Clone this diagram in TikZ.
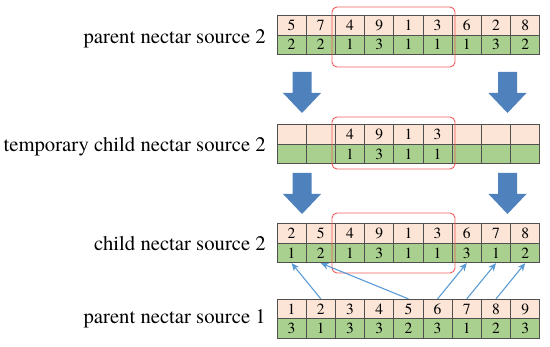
\documentclass[tikz,border=0pt]{standalone}
\usepackage{fontspec}
\setmainfont{TeX Gyre Termes}
\usetikzlibrary{arrows.meta}
\definecolor{peach}{HTML}{FCE4D6}
\definecolor{leaf}{HTML}{A9D08E}
\definecolor{gridc}{HTML}{505050}
\definecolor{selred}{HTML}{F05A5A}
\definecolor{linkblue}{HTML}{5B9BD5}
\definecolor{arrowblue}{HTML}{4F81BD}
\begin{document}
\begin{tikzpicture}[x=1pt,y=-1pt,
  cell/.style={draw=gridc, line width=0.8pt, minimum width=29.2pt, minimum height=19.5pt, inner sep=0pt, font=\fontsize{15.5}{16}\selectfont},
  topc/.style={cell, fill=peach},
  botc/.style={cell, fill=leaf},
  lbl/.style={anchor=base east, font=\fontsize{20.7}{24}\selectfont, inner sep=0pt},
  sel/.style={draw=selred, line width=0.9pt, rounded corners=5pt},
  link/.style={draw=linkblue, line width=1.1pt, -{Stealth[length=8pt,width=7pt]}},
  bigarrow/.style={fill=arrowblue, draw=none}]
\useasboundingbox (0,0) rectangle (550,347);

% rows
\foreach \v [count=\i] in {5,7,4,9,1,3,6,2,8}
  \node[topc] (pat\i) at ({277+29.2*(\i-0.5)}, 25.2) {\v};
\foreach \v [count=\i] in {2,2,1,3,1,1,1,3,2}
  \node[botc] (pab\i) at ({277+29.2*(\i-0.5)}, 44.7) {\v};

\foreach \v [count=\i] in {{},{},4,9,1,3,{},{},{}}
  \node[topc] (tct\i) at ({277+29.2*(\i-0.5)}, 134.5) {\v};
\foreach \v [count=\i] in {{},{},1,3,1,1,{},{},{}}
  \node[botc] (tcb\i) at ({277+29.2*(\i-0.5)}, 154) {\v};

\foreach \v [count=\i] in {2,5,4,9,1,3,6,7,8}
  \node[topc] (cht\i) at ({277+29.2*(\i-0.5)}, 233.5) {\v};
\foreach \v [count=\i] in {1,2,1,3,1,1,3,1,2}
  \node[botc] (chb\i) at ({277+29.2*(\i-0.5)}, 253) {\v};

\foreach \v [count=\i] in {1,2,3,4,5,6,7,8,9}
  \node[topc] (pbt\i) at ({277+29.2*(\i-0.5)}, 309) {\v};
\foreach \v [count=\i] in {3,1,3,3,2,3,1,2,3}
  \node[botc] (pbb\i) at ({277+29.2*(\i-0.5)}, 328.5) {\v};

% labels
\node[lbl] (l1) at (266,43.5) {parent nectar source 2};
\node[lbl] (l2) at (266,152) {temporary child nectar source 2};
\node[lbl] (l3) at (266,250.5) {child nectar source 2};
\node[lbl] (l4) at (266,323.5) {parent nectar source 1};

% selection boxes
\draw[sel] (332,7) rectangle (455,67);
\draw[sel] (332,117) rectangle (455,169);
\draw[sel] (332,213) rectangle (455,273);

% block arrows
\foreach \cx/\y in {302/72, 507.5/72, 302/173, 507.5/173}
  \fill[bigarrow] (\cx-9.5,\y) -- (\cx+9.5,\y) -- (\cx+9.5,\y+21) -- (\cx+19,\y+21)
    -- (\cx,\y+41) -- (\cx-19,\y+21) -- (\cx-9.5,\y+21) -- cycle;

% links
\draw[link] (pbt2.north) -- (chb1.south);
\draw[link] (pbt5.north) -- (chb2.south);
\draw[link] (pbt6.north) -- (chb7.south);
\draw[link] (pbt7.north) -- (chb8.south);
\draw[link] (pbt8.north) -- (chb9.south);
\end{tikzpicture}
\end{document}
